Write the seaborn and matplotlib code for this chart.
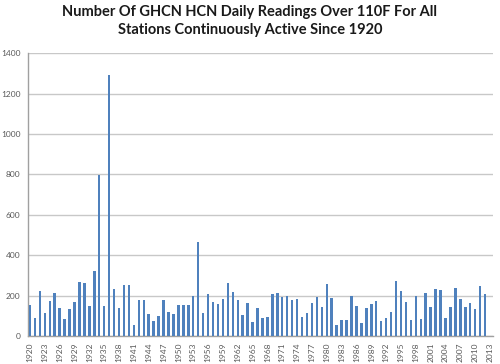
import matplotlib
matplotlib.use("Agg")
import matplotlib.pyplot as plt
import seaborn as sns
import pandas as pd

years = list(range(1920, 2014))
readings = [154, 88, 225, 112, 172, 215, 137, 84, 134, 169,
            269, 263, 150, 322, 795, 150, 1290, 231, 139, 251,
            251, 55, 178, 178, 109, 74, 99, 178, 120, 107,
            155, 155, 152, 200, 465, 112, 208, 167, 157, 185,
            263, 218, 178, 102, 164, 71, 136, 88, 96, 207,
            215, 195, 198, 178, 185, 94, 112, 162, 192, 144,
            258, 187, 53, 79, 79, 198, 149, 64, 137, 159,
            175, 74, 91, 119, 271, 221, 167, 79, 198, 84,
            215, 145, 231, 226, 91, 145, 238, 182, 142, 162,
            132, 248, 210, 0]
title = "Number Of GHCN HCN Daily Readings Over 110F For All\nStations Continuously Active Since 1920"

df = pd.DataFrame({"year": [str(y) for y in years], "readings": readings})

sns.set_style("white")
plt.rcParams['font.family'] = ['Lato', 'DejaVu Sans']

fig = plt.figure(figsize=(5.0, 3.64), dpi=100)
ax = fig.add_axes([0.055, 0.077, 0.930, 0.777])

sns.barplot(data=df, x="year", y="readings", color="#4F81BD", width=0.5,
            saturation=1, ax=ax, zorder=3, linewidth=0, edgecolor="none")

ax.set_xlim(-0.5, len(years) - 0.5)
ax.set_ylim(0, 1400)
ax.set_yticks(range(0, 1401, 200))
ax.yaxis.grid(True, color="#c8c8c8", linewidth=1.0, zorder=0)
ax.set_axisbelow(True)

ticks = list(range(0, len(years), 3))
ax.set_xticks(ticks)
ax.set_xticklabels([str(years[i]) for i in ticks], rotation=90,
                   fontsize=6, color="#595959")
ax.tick_params(axis="y", labelsize=6, labelcolor="#595959", length=3,
               color="#a0a0a0", pad=2)
ax.tick_params(axis="x", length=2, color="#a0a0a0", pad=3)
ax.set_xlabel("")
ax.set_ylabel("")

for s in ["top", "right"]:
    ax.spines[s].set_visible(False)
for s in ["left", "bottom"]:
    ax.spines[s].set_color("#a0a0a0")
    ax.spines[s].set_linewidth(1.0)

fig.text(0.5, 0.985, title, ha="center", va="top", fontsize=10.5,
         fontweight="bold", color="#1a1a1a", linespacing=1.35)

fig.savefig("out.png", dpi=100, facecolor="white")
